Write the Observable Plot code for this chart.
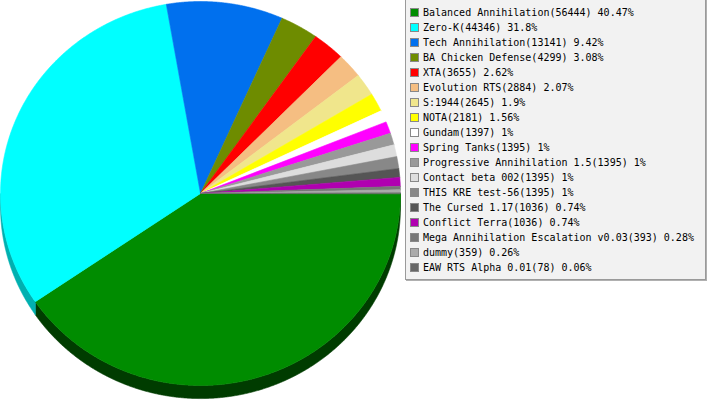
<!DOCTYPE html>
<html>
<head>
<meta charset="utf-8">
<script src="https://cdn.jsdelivr.net/npm/d3@7"></script>
<script src="https://cdn.jsdelivr.net/npm/@observablehq/plot@0.6"></script>
<style>
  html, body { margin: 0; padding: 0; background: #fff; }
  #wrap { position: relative; width: 707px; height: 400px; overflow: hidden; }
  #wrap svg { position: absolute; left: 0; top: 0; }
  #legend { position: absolute; left: 405px; top: -1px; width: 299px; height: 279px;
            background: #f2f2f2; border: 1px solid #9a9a9a; box-shadow: 1px 1px 0 #b0b0b0;
            font-family: "DejaVu Sans Mono", monospace; font-size: 10px; color: #000; }
  .row { position: absolute; left: 4px; height: 15px; line-height: 15px; white-space: pre; }
  .sw { position: absolute; left: 0; top: 3px; width: 7px; height: 7px; border: 1px solid #888; }
  .lb { position: absolute; left: 13px; top: 0; }
</style>
</head>
<body>
<div id="wrap"><div id="legend"></div></div>
<script>
const names = ["Balanced Annihilation", "Zero-K", "Tech Annihilation", "BA Chicken Defense", "XTA",
  "Evolution RTS", "S:1944", "NOTA", "Gundam", "Spring Tanks", "Progressive Annihilation 1.5",
  "Contact beta 002", "THIS KRE test-56", "The Cursed 1.17", "Conflict Terra",
  "Mega Annihilation Escalation v0.03", "dummy", "EAW RTS Alpha 0.01"];
const counts = [56444, 44346, 13141, 4299, 3655, 2884, 2645, 2181, 1397, 1395, 1395, 1395, 1395, 1036, 1036, 393, 359, 78];
const percents = ["40.47", "31.8", "9.42", "3.08", "2.62", "2.07", "1.9", "1.56", "1", "1", "1", "1", "1", "0.74", "0.74", "0.28", "0.26", "0.06"];
const colors = ["#008c00", "#00ffff", "#0070ee", "#6e8c00", "#ff0000", "#f5be82", "#f0e68c", "#ffff00", "#ffffff",
  "#ff00ff", "#999999", "#dddddd", "#888888", "#555555", "#b000b0", "#777777", "#aaaaaa", "#666666"];
const sideColors = ["#003c00", "#00b0b0", "#004a9a", "#3c4c00", "#8c0000", "#a07a50", "#a09a5a", "#a0a000", "#b0b0b0",
  "#a000a0", "#606060", "#909090", "#555555", "#333333", "#700070", "#444444", "#707070", "#404040"];

const rows = names.map((n, i) => ({name: n, count: counts[i], pct: percents[i], color: colors[i], side: sideColors[i]}));

const arcs = d3.pie().sort(null).value(d => d.count)
  .startAngle(Math.PI / 2).endAngle(Math.PI / 2 + 2 * Math.PI)(rows);

const depth = 0.068;
const step = Math.PI / 720;
function sample(a0, a1) {
  const n = Math.max(2, Math.ceil((a1 - a0) / step) + 1);
  return d3.range(n).map(k => a0 + (a1 - a0) * k / (n - 1));
}
const tops = [];
const sides = [];
arcs.forEach(a => {
  const d = a.data;
  tops.push({key: d.name, x: 0, y: 0, color: d.color});
  sample(a.startAngle, a.endAngle).forEach(t => tops.push({key: d.name, x: Math.sin(t), y: Math.cos(t), color: d.color}));
  const s0 = Math.max(a.startAngle, Math.PI / 2), s1 = Math.min(a.endAngle, 3 * Math.PI / 2);
  if (s1 > s0) {
    const ts = sample(s0, s1);
    ts.forEach(t => sides.push({key: d.name, x: Math.sin(t), y: Math.cos(t), color: d.side}));
    ts.slice().reverse().forEach(t => sides.push({key: d.name, x: Math.sin(t), y: Math.cos(t) - depth, color: d.side}));
  }
});

const chart = Plot.plot({
  width: 707, height: 400,
  marginLeft: 0, marginRight: 307, marginTop: 1, marginBottom: 15,
  x: {domain: [-1, 1], axis: null},
  y: {domain: [-1, 1], axis: null},
  color: {type: "identity"},
  marks: [
    Plot.line(sides, {x: "x", y: "y", z: "key", fill: "color", stroke: "color", strokeWidth: 0.6, curve: "linear-closed"}),
    Plot.line(tops, {x: "x", y: "y", z: "key", fill: "color", stroke: "color", strokeWidth: 0.6, curve: "linear-closed"})
  ]
});
document.getElementById("wrap").prepend(chart);

const legend = d3.select("#legend");
rows.forEach((d, i) => {
  const r = legend.append("div").attr("class", "row").style("top", (5 + i * 15) + "px");
  r.append("div").attr("class", "sw").style("background", d.color);
  r.append("div").attr("class", "lb").text(`${d.name}(${d.count}) ${d.pct}%`);
});
</script>
</body>
</html>
